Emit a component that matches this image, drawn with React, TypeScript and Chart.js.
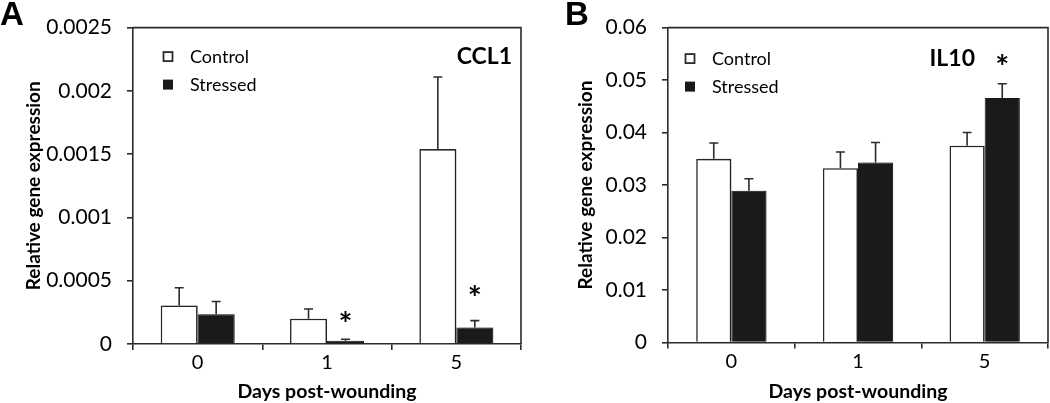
import React, { useEffect, useRef } from 'react';
import { Chart, registerables } from 'chart.js';

Chart.register(...registerables);

// ---------- data ----------
const categories = ['0', '1', '5'];
const seriesLabels = ['Control', 'Stressed'];

const ccl1Control = [0.000305, 0.0002, 0.00154];
const ccl1ControlErr = [0.00014, 0.000077, 0.00057];
const ccl1Stressed = [0.000236, 0.000025, 0.000131];
const ccl1StressedErr = [0.0001, 0.000013, 0.000054];
const ccl1Stars = [null, 0.000223, 0.000423];
const ccl1Ticks = { min: 0, max: 0.0025, step: 0.0005 };

const il10Control = [0.035, 0.0332, 0.0375];
const il10ControlErr = [0.003, 0.0031, 0.0025];
const il10Stressed = [0.0289, 0.0343, 0.0466];
const il10StressedErr = [0.0023, 0.0038, 0.0027];
const il10Stars = [null, null, 0.0541];
const il10Ticks = { min: 0, max: 0.06, step: 0.01 };

const FONT = 'Lato, "Open Sans", sans-serif';
const INK = '#2b2b2b';
const TXT = '#000000';

const decorPlugin = {
  id: 'decor',
  beforeDatasetsDraw(chart: any) {
    const ctx = chart.ctx;
    ctx.save();
    ctx.shadowColor = 'rgba(0,0,0,0.28)';
    ctx.shadowBlur = 4;
    ctx.shadowOffsetX = 3;
    ctx.shadowOffsetY = 0;
  },
  afterDatasetsDraw(chart: any, _args: any, opts: any) {
    const ctx = chart.ctx;
    ctx.restore();
    const y = chart.scales.y;
    const area = chart.chartArea;
    // error bars
    ctx.save();
    ctx.strokeStyle = INK;
    ctx.lineWidth = 1.6;
    chart.data.datasets.forEach((ds: any, di: number) => {
      const meta = chart.getDatasetMeta(di);
      meta.data.forEach((el: any, i: number) => {
        const v = ds.data[i];
        const e = ds.errors[i];
        const y0 = y.getPixelForValue(v);
        const y1 = y.getPixelForValue(v + e);
        ctx.beginPath();
        ctx.moveTo(el.x, y0);
        ctx.lineTo(el.x, y1);
        ctx.moveTo(el.x - 4.5, y1);
        ctx.lineTo(el.x + 4.5, y1);
        ctx.stroke();
      });
    });
    // stars
    ctx.fillStyle = TXT;
    ctx.font = `bold 33px ${FONT}`;
    ctx.textAlign = 'center';
    ctx.textBaseline = 'alphabetic';
    const stars = opts.stars as (number | null)[];
    const smeta = chart.getDatasetMeta(1);
    stars.forEach((s, i) => {
      if (s == null) return;
      const m = ctx.measureText('*');
      const py = y.getPixelForValue(s);
      const dy = (m.actualBoundingBoxAscent - m.actualBoundingBoxDescent) / 2;
      ctx.fillText('*', smeta.data[i].x, py + dy);
    });
    // frame top & right
    ctx.strokeStyle = INK;
    ctx.lineWidth = 1.6;
    ctx.beginPath();
    ctx.moveTo(area.left, area.top);
    ctx.lineTo(area.right, area.top);
    ctx.lineTo(area.right, area.bottom);
    ctx.stroke();
    // legend
    const lg = opts.legend;
    ctx.font = `18px ${FONT}`;
    ctx.textAlign = 'left';
    ctx.textBaseline = 'middle';
    chart.data.datasets.forEach((ds: any, di: number) => {
      const cx = area.left + lg.dx;
      const cy = area.top + lg.dy + di * lg.gap;
      if (di === 0) {
        ctx.fillStyle = '#fff';
        ctx.fillRect(cx - 5, cy - 5, 10, 10);
        ctx.lineWidth = 1.8;
        ctx.strokeStyle = INK;
        ctx.strokeRect(cx - 4.5, cy - 4.5, 9, 9);
      } else {
        ctx.fillStyle = '#1a1a1a';
        ctx.fillRect(cx - 5, cy - 5, 10, 10);
      }
      ctx.fillStyle = TXT;
      ctx.fillText(ds.label, area.left + lg.tx, cy + 1);
    });
    // gene label
    ctx.font = `bold 23px ${FONT}`;
    ctx.textAlign = 'right';
    ctx.fillStyle = TXT;
    ctx.fillText(opts.gene, area.right - opts.geneDx, area.top + opts.geneDy);
    // panel letter
    ctx.font = 'bold 33px "Liberation Sans", Arial, sans-serif';
    ctx.textAlign = 'left';
    ctx.textBaseline = 'alphabetic';
    ctx.fillStyle = TXT;
    ctx.fillText(opts.letter, opts.letterX, 25);
    ctx.restore();
  },
};

function fmt(v: any) {
  return String(Number(Number(v).toFixed(6)));
}

function makeConfig(p: any) {
  return {
    type: 'bar',
    data: {
      labels: categories,
      datasets: [
        {
          label: seriesLabels[0],
          data: p.control,
          errors: p.controlErr,
          backgroundColor: '#ffffff',
          borderColor: INK,
          borderWidth: 1.6,
          categoryPercentage: p.catPct,
          barPercentage: 1,
        },
        {
          label: seriesLabels[1],
          data: p.stressed,
          errors: p.stressedErr,
          backgroundColor: '#1a1a1a',
          borderColor: '#1a1a1a',
          borderWidth: 1,
          categoryPercentage: p.catPct,
          barPercentage: 1,
        },
      ],
    },
    options: {
      responsive: false,
      animation: false,
      layout: { padding: { left: 0, right: p.padRight, top: p.padTop, bottom: 0 } },
      plugins: {
        legend: { display: false },
        tooltip: { enabled: false },
        decor: {
          stars: p.stars,
          legend: p.legend,
          gene: p.gene,
          geneDx: p.geneDx,
          geneDy: p.geneDy,
          letter: p.letter,
          letterX: p.letterX,
        },
      },
      scales: {
        x: {
          type: 'category',
          offset: true,
          grid: {
            offset: true,
            drawOnChartArea: false,
            drawTicks: true,
            tickLength: 6,
            color: INK,
            lineWidth: 1.6,
          },
          border: { display: true, color: INK, width: 1.6 },
          ticks: { color: TXT, font: { family: FONT, size: 20 }, padding: 1 },
          title: {
            display: true,
            text: 'Days post-wounding',
            color: TXT,
            font: { family: FONT, size: 19.5, weight: 'bold' },
            padding: { top: 0, bottom: 0 },
          },
          afterFit: (s: any) => {
            s.height = p.xAxisH;
          },
        },
        y: {
          min: p.ticks.min,
          max: p.ticks.max,
          grid: {
            drawOnChartArea: false,
            drawTicks: true,
            tickLength: 6,
            color: INK,
            lineWidth: 1.6,
          },
          border: { display: true, color: INK, width: 1.6 },
          ticks: {
            stepSize: p.ticks.step,
            color: TXT,
            font: { family: FONT, size: 21 },
            padding: 15,
            callback: (v: any) => fmt(v),
          },
          title: {
            display: true,
            text: 'Relative gene expression',
            color: TXT,
            font: { family: FONT, size: 19, weight: 'bold' },
            padding: { top: p.yTitlePad, bottom: 0 },
          },
          afterFit: (s: any) => {
            s.width = p.yAxisW;
          },
        },
      },
    },
    plugins: [decorPlugin],
  };
}

const panelA = {
  control: ccl1Control,
  controlErr: ccl1ControlErr,
  stressed: ccl1Stressed,
  stressedErr: ccl1StressedErr,
  stars: ccl1Stars,
  ticks: ccl1Ticks,
  catPct: 0.572,
  padRight: 4,
  padTop: 19,
  xAxisH: 59,
  yAxisW: 133,
  yTitlePad: 22,
  legend: { dx: 35, tx: 57, dy: 29, gap: 28 },
  gene: 'CCL1',
  geneDx: 9,
  geneDy: 29,
  letter: 'A',
  letterX: 0,
};

const panelB = {
  control: il10Control,
  controlErr: il10ControlErr,
  stressed: il10Stressed,
  stressedErr: il10StressedErr,
  stars: il10Stars,
  ticks: il10Ticks,
  catPct: 0.555,
  padRight: 2,
  padTop: 24,
  xAxisH: 60.5,
  yAxisW: 143,
  yTitlePad: 49,
  legend: { dx: 22, tx: 44, dy: 31, gap: 28 },
  gene: 'IL10',
  geneDx: 73,
  geneDy: 31,
  letter: 'B',
  letterX: 40,
};

function Panel({ cfg, left }: { cfg: any; left: number }) {
  const ref = useRef<HTMLCanvasElement | null>(null);
  useEffect(() => {
    if (!ref.current) return;
    const chart = new Chart(ref.current, makeConfig(cfg) as any);
    return () => chart.destroy();
  }, [cfg]);
  return (
    <canvas
      ref={ref}
      width={525}
      height={403}
      style={{ position: 'absolute', left, top: 0, width: 525, height: 403, display: 'block' }}
    />
  );
}

export default function App() {
  return (
    <div style={{ position: 'absolute', left: 0, top: 0, width: 1050, height: 403, background: '#fff' }}>
      <Panel cfg={panelA} left={0} />
      <Panel cfg={panelB} left={525} />
    </div>
  );
}
